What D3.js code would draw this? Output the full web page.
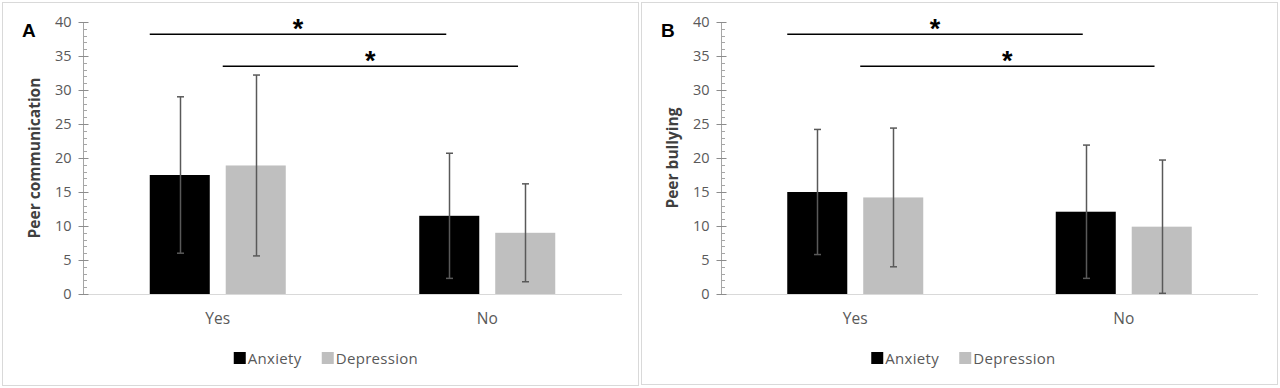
<!DOCTYPE html>
<html>
<head>
<meta charset="utf-8">
<script src="https://cdn.jsdelivr.net/npm/d3@7"></script>
<style>
  body { margin: 0; background: #fff; }
  svg { display: block; }
</style>
</head>
<body>
<svg id="chart"></svg>
<script>
let w = 1280;
let h = 388;

// data
let groups = ["Yes", "No"];
let series = ["Anxiety", "Depression"];
let colors = ["#000000", "#bfbfbf"];
let yTicks = [0, 5, 10, 15, 20, 25, 30, 35, 40];

let commMean = [[17.5, 18.9], [11.5, 9.0]];   // [group][series]
let commSd = [[11.5, 13.3], [9.2, 7.2]];
let bullyMean = [[15.0, 14.2], [12.1, 9.9]];
let bullySd = [[9.2, 10.2], [9.8, 9.8]];

// significance brackets: series index and level on y scale
let sigSeries = [0, 1];
let sigLevels = [38.2, 33.5];

let panels = [
  { letter: "A", label: "Peer communication", mean: commMean, sd: commSd, left: 2, right: 638, bottom: 385, axisX: 83, axisEnd: 622 },
  { letter: "B", label: "Peer bullying", mean: bullyMean, sd: bullySd, left: 641, right: 1277, bottom: 384, axisX: 721, axisEnd: 1258 }
];

let svg = d3.select("#chart").attr("width", w).attr("height", h);
let font = "'Open Sans', 'Noto Sans', sans-serif";

let drawPanel = (p) => {
  let g = svg.append("g");

  g.append("rect")
   .attr("x", p.left + 0.5)
   .attr("y", 2.5)
   .attr("width", p.right - p.left)
   .attr("height", p.bottom - 2)
   .attr("fill", "#fff")
   .attr("stroke", "#d9d9d9")

  let yScale = d3.scaleLinear().domain([0, 40]).range([294, 22]);
  let x0 = d3.scaleBand().domain(groups).range([p.axisX, p.axisEnd]);
  let clusterW = 136;
  let x1 = d3.scaleBand().domain(series).range([0, clusterW]).paddingInner(0.21);
  let off = (x0.bandwidth() - clusterW) / 2;
  let barX = (gi, si) => x0(groups[gi]) + off + x1(series[si]);

  // baseline
  g.append("line")
   .attr("x1", p.axisX).attr("x2", p.axisEnd)
   .attr("y1", yScale(0) + 0.5).attr("y2", yScale(0) + 0.5)
   .attr("stroke", "#d9d9d9")

  // minor ticks
  let minor = d3.range(0, 41).filter((d) => d % 5 != 0);
  g.selectAll(".minor")
   .data(minor)
   .enter()
   .append("line")
   .attr("x1", p.axisX).attr("x2", p.axisX + 4)
   .attr("y1", (d) => Math.round(yScale(d)) + 0.5)
   .attr("y2", (d) => Math.round(yScale(d)) + 0.5)
   .attr("stroke", "#a6a6a6")

  let yAxis = d3.axisLeft(yScale).tickValues(yTicks).tickSize(5).tickPadding(7);
  let ax = g.append("g")
            .attr("transform", `translate(${p.axisX + 0.5}, 0)`)
            .call(yAxis)
  ax.select(".domain").attr("stroke", "#a6a6a6").attr("d", `M0,${yScale(40)}V${yScale(0)}`)
  ax.selectAll(".tick line").attr("stroke", "#8c8c8c").attr("x1", 5)
  ax.selectAll(".tick text")
    .attr("fill", "#595959")
    .style("font-family", font)
    .style("font-size", "14.5px")

  // bars
  let bars = [];
  p.mean.forEach((row, gi) => row.forEach((m, si) => bars.push({ gi, si, m, sd: p.sd[gi][si] })));

  g.selectAll(".bar")
   .data(bars)
   .enter()
   .append("rect")
   .attr("x", (d) => barX(d.gi, d.si))
   .attr("width", x1.bandwidth())
   .attr("y", (d) => yScale(d.m))
   .attr("height", (d) => yScale(0) - yScale(d.m))
   .attr("fill", (d) => colors[d.si])

  // error bars
  let cx = (d) => Math.round(barX(d.gi, d.si) + x1.bandwidth() / 2) + 0.5;
  let eb = g.selectAll(".err").data(bars).enter().append("g").attr("stroke", "#595959").attr("stroke-width", 1.5);
  eb.append("line")
    .attr("x1", cx).attr("x2", cx)
    .attr("y1", (d) => yScale(d.m + d.sd))
    .attr("y2", (d) => yScale(Math.max(0, d.m - d.sd)))
  eb.append("line")
    .attr("x1", (d) => cx(d) - 3.5).attr("x2", (d) => cx(d) + 3.5)
    .attr("y1", (d) => yScale(d.m + d.sd)).attr("y2", (d) => yScale(d.m + d.sd))
  eb.append("line")
    .attr("x1", (d) => cx(d) - 3.5).attr("x2", (d) => cx(d) + 3.5)
    .attr("y1", (d) => yScale(Math.max(0, d.m - d.sd))).attr("y2", (d) => yScale(Math.max(0, d.m - d.sd)))

  // category labels
  g.selectAll(".cat")
   .data(groups)
   .enter()
   .append("text")
   .attr("x", (d) => x0(d) + x0.bandwidth() / 2)
   .attr("y", 324)
   .attr("text-anchor", "middle")
   .attr("fill", "#595959")
   .style("font-family", font)
   .style("font-size", "15.5px")
   .text((d) => d)

  // significance brackets
  let ends = [0.45, 0.38];
  sigSeries.forEach((si, k) => {
    let xa = barX(0, si) - (k == 0 ? 0 : 3);
    let xb = barX(1, si) + x1.bandwidth() * ends[k];
    let yy = yScale(sigLevels[k]);
    g.append("line")
     .attr("x1", xa).attr("x2", xb)
     .attr("y1", yy).attr("y2", yy)
     .attr("stroke", "#000").attr("stroke-width", 1.5)
    g.append("text")
     .attr("x", (xa + xb) / 2)
     .attr("y", yy + 4)
     .attr("text-anchor", "middle")
     .style("font-family", "'Liberation Sans', Arial, sans-serif")
     .style("font-weight", "bold")
     .style("font-size", "27px")
     .text("*")
  });

  // y label
  g.append("text")
   .attr("transform", `translate(${p.axisX - 43}, ${(yScale(0) + yScale(40)) / 2}) rotate(-90)`)
   .attr("text-anchor", "middle")
   .attr("fill", "#404040")
   .style("font-family", font)
   .style("font-weight", "bold")
   .style("font-size", "15.5px")
   .text(p.label)

  // panel letter
  g.append("text")
   .attr("x", p.left + 20)
   .attr("y", 37)
   .style("font-family", "'Liberation Sans', Arial, sans-serif")
   .style("font-weight", "bold")
   .style("font-size", "19px")
   .text(p.letter)

  // legend
  let lx = [x0("Yes") + x0.bandwidth() / 2 + 16, x0("Yes") + x0.bandwidth() / 2 + 104];
  let lg = g.selectAll(".leg").data(series).enter().append("g")
            .attr("transform", (d, i) => `translate(${lx[i]}, 352)`)
  lg.append("rect").attr("width", 12).attr("height", 12).attr("fill", (d, i) => colors[i])
  lg.append("text")
    .attr("x", 14).attr("y", 12)
    .attr("fill", "#595959")
    .style("font-family", font)
    .style("font-size", "15px")
    .style("letter-spacing", "0.3px")
    .text((d) => d)
};

panels.forEach(drawPanel);
</script>
</body>
</html>
